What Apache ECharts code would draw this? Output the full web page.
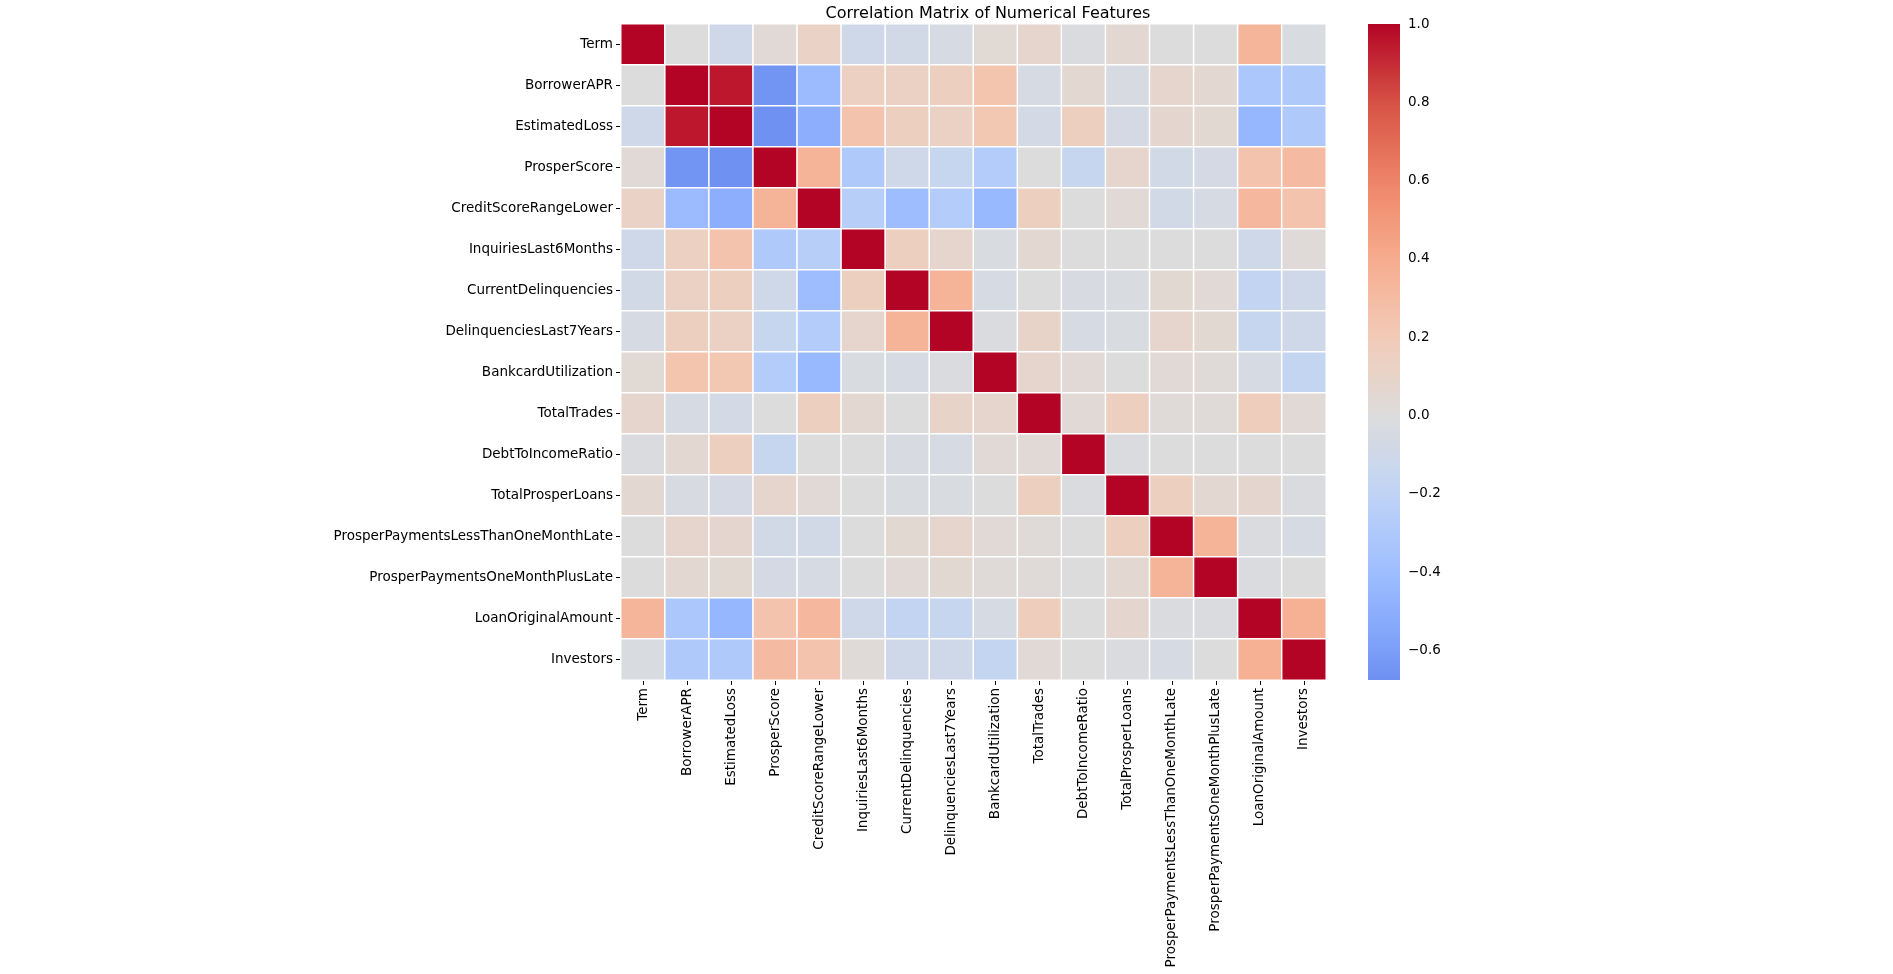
<!DOCTYPE html>
<html>
<head>
<meta charset="utf-8">
<script src="https://cdn.jsdelivr.net/npm/echarts@6/dist/echarts.min.js"></script>
<style>html,body{margin:0;background:#fff}#main{width:1893px;height:974px}</style>
</head>
<body>
<div id="main"></div>
<script>
var features = ['Term', 'BorrowerAPR', 'EstimatedLoss', 'ProsperScore', 'CreditScoreRangeLower',
    'InquiriesLast6Months', 'CurrentDelinquencies', 'DelinquenciesLast7Years', 'BankcardUtilization',
    'TotalTrades', 'DebtToIncomeRatio', 'TotalProsperLoans', 'ProsperPaymentsLessThanOneMonthLate',
    'ProsperPaymentsOneMonthPlusLate', 'LoanOriginalAmount', 'Investors'];

var corr = [
    [1, 0.0, -0.1, 0.03, 0.12, -0.1, -0.08, -0.05, 0.04, 0.08, -0.02, 0.06, 0.0, 0.0, 0.34, -0.03],
    [0.0, 1, 0.95, -0.65, -0.42, 0.14, 0.13, 0.15, 0.24, -0.05, 0.06, -0.04, 0.08, 0.06, -0.32, -0.3],
    [-0.1, 0.95, 1, -0.67, -0.5, 0.25, 0.15, 0.13, 0.22, -0.07, 0.15, -0.06, 0.07, 0.05, -0.45, -0.3],
    [0.03, -0.65, -0.67, 1, 0.35, -0.3, -0.1, -0.15, -0.27, 0.0, -0.15, 0.08, -0.08, -0.06, 0.25, 0.3],
    [0.12, -0.42, -0.5, 0.35, 1, -0.25, -0.4, -0.27, -0.43, 0.15, 0.0, 0.03, -0.08, -0.05, 0.32, 0.25],
    [-0.1, 0.14, 0.25, -0.3, -0.25, 1, 0.15, 0.08, -0.03, 0.06, 0.0, 0.0, 0.0, 0.0, -0.1, 0.02],
    [-0.08, 0.13, 0.15, -0.1, -0.4, 0.15, 1, 0.35, -0.05, 0.0, -0.04, -0.03, 0.05, 0.03, -0.18, -0.1],
    [-0.05, 0.15, 0.13, -0.15, -0.27, 0.08, 0.35, 1, -0.02, 0.1, -0.05, -0.03, 0.08, 0.05, -0.15, -0.1],
    [0.04, 0.24, 0.22, -0.27, -0.43, -0.03, -0.05, -0.02, 1, 0.08, 0.03, 0.0, 0.03, 0.02, -0.05, -0.17],
    [0.08, -0.05, -0.07, 0.0, 0.15, 0.06, 0.0, 0.1, 0.08, 1, 0.03, 0.15, 0.02, 0.02, 0.17, 0.03],
    [-0.02, 0.06, 0.15, -0.15, 0.0, 0.0, -0.04, -0.05, 0.03, 0.03, 1, -0.02, 0.0, 0.0, 0.0, 0.0],
    [0.06, -0.04, -0.06, 0.08, 0.03, 0.0, -0.03, -0.03, 0.0, 0.15, -0.02, 1, 0.15, 0.06, 0.07, -0.02],
    [0.0, 0.08, 0.07, -0.08, -0.08, 0.0, 0.05, 0.08, 0.03, 0.02, 0.0, 0.15, 1, 0.35, -0.02, -0.05],
    [0.0, 0.06, 0.05, -0.06, -0.05, 0.0, 0.03, 0.05, 0.02, 0.02, 0.0, 0.06, 0.35, 1, -0.02, 0.0],
    [0.34, -0.32, -0.45, 0.25, 0.32, -0.1, -0.18, -0.15, -0.05, 0.17, 0.0, 0.07, -0.02, -0.02, 1, 0.37],
    [-0.03, -0.3, -0.3, 0.3, 0.25, 0.02, -0.1, -0.1, -0.17, 0.03, 0.0, -0.02, -0.05, 0.0, 0.37, 1]
];

var colorbarTicks = [-0.6, -0.4, -0.2, 0.0, 0.2, 0.4, 0.6, 0.8, 1.0];
var vMin = -0.675, vMax = 1;

// coolwarm stops (t = 0..1 for value -1..1)
var cw = ['#3b4cc0', '#5977e3', '#7b9ff9', '#9ebeff', '#c0d4f5', '#dddcdc', '#f2cbb7', '#f7ac8e', '#ee8468', '#d65244', '#b40426'];
function hex(c) { return [1, 3, 5].map(function (i) { return parseInt(c.substr(i, 2), 16); }); }
function coolwarm(t) {
    var p = t * 10, i = Math.min(9, Math.floor(p)), f = p - i;
    var a = hex(cw[i]), b = hex(cw[i + 1]);
    return 'rgb(' + a.map(function (x, k) { return Math.round(x + (b[k] - x) * f); }).join(',') + ')';
}
var ramp = [], stops = [];
for (var k = 0; k <= 40; k++) {
    var v = vMin + (vMax - vMin) * k / 40;
    ramp.push(coolwarm((v + 1) / 2));
    stops.push({ offset: k / 40, color: ramp[k] });
}

var data = [];
corr.forEach(function (row, i) {
    row.forEach(function (val, j) { data.push([j, i, val]); });
});

var chart = echarts.init(document.getElementById('main'));
var font = 'DejaVu Sans';
chart.setOption({
    backgroundColor: '#fff',
    animation: false,
    textStyle: { fontFamily: font },
    title: {
        text: 'Correlation Matrix of Numerical Features',
        left: 983, top: 1, textAlign: 'center',
        textStyle: { fontFamily: font, fontSize: 16, fontWeight: 'normal', color: '#000' }
    },
    grid: [
        { left: 621, right: 567, top: 24, bottom: 294 },
        { left: 1368, width: 32, top: 24, bottom: 294 }
    ],
    xAxis: [{
        type: 'category', data: features, gridIndex: 0,
        axisLine: { show: false },
        axisTick: { show: true, alignWithLabel: true, length: 5, lineStyle: { color: '#000' } },
        axisLabel: { rotate: 90, interval: 0, color: '#000', fontSize: 13.5, margin: 8 },
        splitLine: { show: false }
    }, {
        type: 'value', gridIndex: 1, min: 0, max: 1, show: false
    }],
    yAxis: [{
        type: 'category', data: features, gridIndex: 0, inverse: true,
        axisLine: { show: false },
        axisTick: { show: true, alignWithLabel: true, length: 5, lineStyle: { color: '#000' } },
        axisLabel: { interval: 0, color: '#000', fontSize: 13.5, margin: 8 },
        splitLine: { show: false }
    }, {
        type: 'value', gridIndex: 1, position: 'right', min: vMin, max: vMax,
        axisLine: { show: false },
        axisTick: { show: true, length: 5, customValues: colorbarTicks, lineStyle: { color: '#000' } },
        axisLabel: {
            color: '#000', fontSize: 13.5, margin: 8, customValues: colorbarTicks,
            formatter: function (v) { return v.toFixed(1).replace('-', '\u2212'); }
        },
        splitLine: { show: false }
    }],
    visualMap: {
        type: 'continuous', min: vMin, max: vMax, seriesIndex: 0, show: false,
        inRange: { color: ramp }
    },
    series: [{
        type: 'heatmap', data: data, xAxisIndex: 0, yAxisIndex: 0,
        itemStyle: { borderColor: '#fff', borderWidth: 1.5 }
    }, {
        type: 'scatter', data: [], xAxisIndex: 1, yAxisIndex: 1, silent: true,
        markArea: {
            silent: true,
            itemStyle: {
                color: { type: 'linear', x: 0, y: 1, x2: 0, y2: 0, colorStops: stops }
            },
            data: [[{ xAxis: 0, yAxis: vMin }, { xAxis: 1, yAxis: vMax }]]
        }
    }]
});
</script>
</body>
</html>
